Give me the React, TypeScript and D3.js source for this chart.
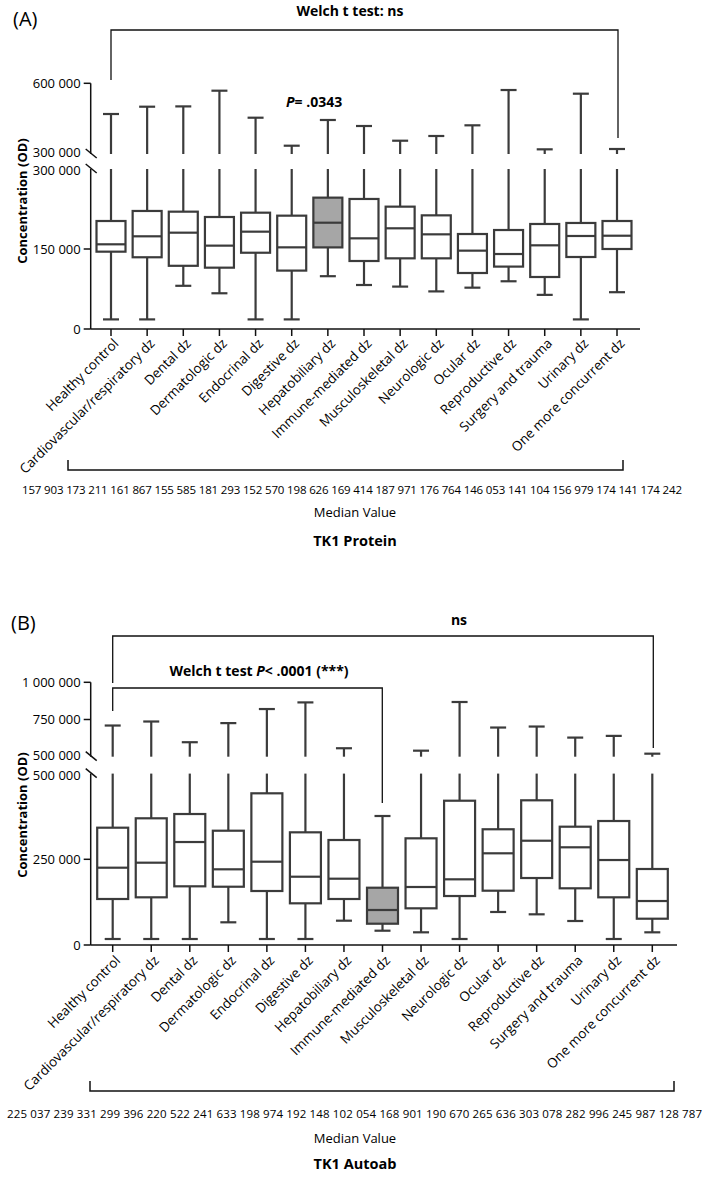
import React from "react";
import * as d3 from "d3";

const categories = [
  "Healthy control",
  "Cardiovascular/respiratory dz",
  "Dental dz",
  "Dermatologic dz",
  "Endocrinal dz",
  "Digestive dz",
  "Hepatobiliary dz",
  "Immune-mediated dz",
  "Musculoskeletal dz",
  "Neurologic dz",
  "Ocular dz",
  "Reproductive dz",
  "Surgery and trauma",
  "Urinary dz",
  "One more concurrent dz",
];

// Panel A: TK1 Protein
const proteinMin = [18000, 18000, 81000, 67000, 18000, 18000, 99000, 82500, 79500, 70500, 77500, 89500, 64000, 18000, 69000];
const proteinQ1 = [145000, 134500, 118500, 115000, 143000, 109500, 153000, 127500, 132500, 132500, 105000, 117000, 97500, 135000, 150000];
const proteinMedian = [158800, 173800, 180600, 156300, 182500, 153100, 199300, 170000, 188800, 177500, 146900, 140600, 156900, 174400, 174900];
const proteinQ3 = [202500, 221300, 220000, 210000, 218100, 212500, 246300, 243800, 229400, 213100, 178100, 185600, 196900, 198800, 202500];
const proteinMax = [469700, 500700, 502000, 568600, 454000, 335200, 444300, 418800, 356400, 376400, 421700, 571500, 319800, 555900, 321200];
const proteinMedianLabels = ["157 903", "173 211", "161 867", "155 585", "181 293", "152 570", "198 626", "169 414", "187 971", "176 764", "146 053", "141 104", "156 979", "174 141", "174 242"];
const proteinLowerTicks = [0, 150000, 300000];
const proteinUpperTicks = [300000, 600000];

// Panel B: TK1 Autoab
const autoabMin = [17500, 17500, 17500, 66200, 17500, 17500, 70900, 41700, 37000, 17500, 96300, 89500, 70000, 17500, 37000];
const autoabQ1 = [134200, 139100, 171200, 170000, 157500, 121600, 134200, 62100, 107000, 142900, 158400, 195400, 165400, 139100, 76700];
const autoabMedian = [225500, 240100, 300400, 220800, 243000, 199200, 193400, 102100, 169200, 191600, 267500, 304200, 285000, 247900, 128300];
const autoabQ3 = [342200, 369600, 382100, 333400, 442500, 328700, 306300, 167100, 311200, 420900, 337600, 422100, 345100, 361700, 221700];
const autoabMax = [709500, 736500, 597300, 725700, 820300, 864900, 556800, 376300, 540500, 867600, 696000, 702700, 628400, 639900, 520300];
const autoabMedianLabels = ["225 037", "239 331", "299 396", "220 522", "241 633", "198 974", "192 148", "102 054", "168 901", "190 670", "265 636", "303 078", "282 996", "245 987", "128 787"];
const autoabLowerTicks = [0, 250000, 500000];
const autoabUpperTicks = [500000, 750000, 1000000];

const FONT = "'Open Sans', 'Noto Sans', sans-serif";
const BOX_STROKE = "#3b3b3b";
const fmt = (v: number) => d3.format(",")(v).replace(/,/g, " ");

type PanelProps = {
  min: number[]; q1: number[]; med: number[]; q3: number[]; max: number[];
  lowerDomain: [number, number]; lowerRange: [number, number];
  upperDomain: [number, number]; upperRange: [number, number];
  lowerTicks: number[]; upperTicks: number[];
  xRange: [number, number]; xAxisEnd: number; axisX: number;
  boxW: number; capW: number; highlight: number;
  labelDy: number;
  medianLabels: string[]; medianY: number; medianX0: number; medianLen: number;
  bracket: [number, number, number];
  medianTitleY: number; titleY: number; title: string;
  yTitleY: number;
};

function Panel(p: PanelProps) {
  const lower = d3.scaleLinear().domain(p.lowerDomain).range(p.lowerRange);
  const upper = d3.scaleLinear().domain(p.upperDomain).range(p.upperRange);
  const x = d3.scalePoint<string>().domain(categories).range(p.xRange);
  const axisY = lower(0);
  const breakVal = p.lowerDomain[1];
  const yOf = (v: number) => (v > breakVal ? upper(v) : lower(v));
  const lowTop = lower(breakVal);
  const upBottom = upper(breakVal);
  const ax = p.axisX;
  return (
    <g>
      <line x1={ax} x2={ax} y1={axisY} y2={lowTop} stroke="#111" strokeWidth={1.5} />
      <line x1={ax} x2={ax} y1={upBottom} y2={upper(p.upperDomain[1])} stroke="#111" strokeWidth={1.5} />
      <line x1={ax - 5} x2={ax + 6} y1={upBottom - 5} y2={upBottom + 4} stroke="#111" strokeWidth={1.5} />
      <line x1={ax - 5} x2={ax + 6} y1={lowTop - 5} y2={lowTop + 4} stroke="#111" strokeWidth={1.5} />
      {p.lowerTicks.map((t) => (
        <g key={"l" + t}>
          {t !== breakVal && <line x1={ax - 7} x2={ax} y1={lower(t)} y2={lower(t)} stroke="#111" strokeWidth={1.5} />}
          <text x={ax - 10} y={lower(t) + (t === breakVal ? 1.5 : 0)} dy="0.35em" textAnchor="end" fontSize={13} fontFamily={FONT}>{fmt(t)}</text>
        </g>
      ))}
      {p.upperTicks.map((t) => (
        <g key={"u" + t}>
          {t !== breakVal && <line x1={ax - 7} x2={ax} y1={upper(t)} y2={upper(t)} stroke="#111" strokeWidth={1.5} />}
          <text x={ax - 10} y={upper(t) - (t === breakVal ? 1.5 : 0)} dy="0.35em" textAnchor="end" fontSize={13} fontFamily={FONT}>{fmt(t)}</text>
        </g>
      ))}
      <text transform={`translate(22,${p.yTitleY}) rotate(-90)`} textAnchor="middle" dy="0.35em" fontSize={13} fontWeight="bold" fontFamily={FONT}>Concentration (OD)</text>
      <line x1={ax} x2={p.xAxisEnd} y1={axisY} y2={axisY} stroke="#111" strokeWidth={1.5} />
      {categories.map((c) => (
        <g key={c}>
          <line x1={x(c)!} x2={x(c)!} y1={axisY} y2={axisY + 7} stroke="#111" strokeWidth={1.5} />
          <text transform={`translate(${x(c)! + 5},${axisY + p.labelDy}) rotate(-45)`} textAnchor="end" dy="0.35em" fontSize={13.4} fontFamily={FONT}>{c}</text>
        </g>
      ))}
      {categories.map((c, i) => {
        const cx = x(c)!;
        const hw = p.boxW / 2;
        const cw = p.capW / 2;
        const top = p.max[i];
        const segs: [number, number][] = [];
        if (top > breakVal) {
          segs.push([yOf(p.q3[i]), lowTop]);
          segs.push([upBottom, upper(top)]);
        } else {
          segs.push([yOf(p.q3[i]), lower(top)]);
        }
        return (
          <g key={"b" + i} stroke={BOX_STROKE} strokeWidth={2.2}>
            {segs.map((s, k) => (
              <line key={k} x1={cx} x2={cx} y1={s[0]} y2={s[1]} />
            ))}
            <line x1={cx - cw} x2={cx + cw} y1={yOf(top)} y2={yOf(top)} />
            <line x1={cx} x2={cx} y1={lower(p.q1[i])} y2={lower(p.min[i])} />
            <line x1={cx - cw} x2={cx + cw} y1={lower(p.min[i])} y2={lower(p.min[i])} />
            <rect x={cx - hw} width={p.boxW} y={lower(p.q3[i])} height={lower(p.q1[i]) - lower(p.q3[i])} fill={i === p.highlight ? "#a6a6a6" : "#fff"} />
            <line x1={cx - hw} x2={cx + hw} y1={lower(p.med[i])} y2={lower(p.med[i])} />
          </g>
        );
      })}
      <path d={`M${p.bracket[0]},${p.bracket[2] - 10}V${p.bracket[2]}H${p.bracket[1]}V${p.bracket[2] - 10}`} fill="none" stroke="#111" strokeWidth={1.5} />
      <text x={p.medianX0} y={p.medianY} dy="0.35em" fontSize={11.5} fontFamily={FONT} textLength={p.medianLen} lengthAdjust="spacing">{p.medianLabels.join("  ")}</text>
      <text x={355} y={p.medianTitleY} dy="0.35em" textAnchor="middle" fontSize={13} fontFamily={FONT}>Median Value</text>
      <text x={355} y={p.titleY} dy="0.35em" textAnchor="middle" fontSize={14.5} fontWeight="bold" fontFamily={FONT}>{p.title}</text>
    </g>
  );
}

export default function App() {
  return (
    <svg width={709} height={1183} style={{ position: "absolute", left: 0, top: 0, background: "#fff" }}>
      <rect width={709} height={1183} fill="#fff" />
      <text x={13} y={26} fontSize={20} fontFamily={FONT}>(A)</text>
      <text x={350} y={16} textAnchor="middle" fontSize={14} fontWeight="bold" fontFamily={FONT}>Welch t test: ns</text>
      <path d="M111,80V30H618V138" fill="none" stroke="#111" strokeWidth={1.3} />
      <text x={286} y={107} fontSize={14} fontWeight="bold" fontFamily={FONT}>
        <tspan fontStyle="italic">P</tspan>= .0343
      </text>
      <Panel
        min={proteinMin} q1={proteinQ1} med={proteinMedian} q3={proteinQ3} max={proteinMax}
        lowerDomain={[0, 300000]} lowerRange={[329, 169]}
        upperDomain={[300000, 600000]} upperRange={[154, 83.3]}
        lowerTicks={proteinLowerTicks} upperTicks={proteinUpperTicks}
        xRange={[111, 617]} xAxisEnd={640} axisX={90.7}
        boxW={29} capW={16} highlight={6} labelDy={12}
        medianLabels={proteinMedianLabels} medianY={490} medianX0={22} medianLen={660}
        bracket={[68, 623, 470]}
        medianTitleY={512} titleY={541} title="TK1 Protein" yTitleY={201}
      />
      <text x={11} y={630} fontSize={20} fontFamily={FONT}>(B)</text>
      <text x={459} y={625} textAnchor="middle" fontSize={14} fontWeight="bold" fontFamily={FONT}>ns</text>
      <path d="M112.7,683V636H653.3V748" fill="none" stroke="#111" strokeWidth={1.3} />
      <text x={259} y={676} textAnchor="middle" fontSize={14} fontWeight="bold" fontFamily={FONT}>
        Welch t test <tspan fontStyle="italic">P</tspan>{"< .0001 (***)"}
      </text>
      <path d="M112.7,711V688H382.3V803" fill="none" stroke="#111" strokeWidth={1.3} />
      <Panel
        min={autoabMin} q1={autoabQ1} med={autoabMedian} q3={autoabQ3} max={autoabMax}
        lowerDomain={[0, 500000]} lowerRange={[945, 773.6]}
        upperDomain={[500000, 1000000]} upperRange={[756.7, 682.3]}
        lowerTicks={autoabLowerTicks} upperTicks={autoabUpperTicks}
        xRange={[112.7, 652.3]} xAxisEnd={677} axisX={90.7}
        boxW={31} capW={16} highlight={7} labelDy={13}
        medianLabels={autoabMedianLabels} medianY={1114} medianX0={7} medianLen={695}
        bracket={[90, 674, 1091]}
        medianTitleY={1138} titleY={1164} title="TK1 Autoab" yTitleY={815}
      />
    </svg>
  );
}
